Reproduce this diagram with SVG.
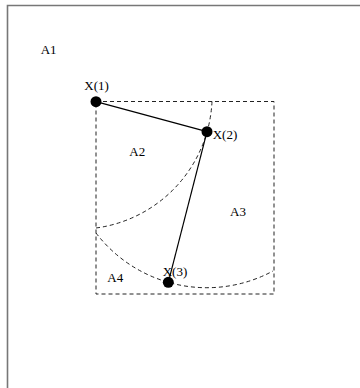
<svg xmlns="http://www.w3.org/2000/svg" width="360" height="388" viewBox="0 0 360 388">
<style>
  .lbl { font-family: "Liberation Serif", "Times New Roman", serif; font-size: 13px; fill: #000; }
  .dash { fill: none; stroke: #222; stroke-width: 1; stroke-dasharray: 4 3; }
  .edge { fill: none; stroke: #000; stroke-width: 1.2; }
  .pt { fill: #000; }
</style>
<rect x="0" y="0" width="360" height="388" fill="#fff"/>
<g id="frame">
  <path d="M7.5,388 V5.5 H360" fill="none" stroke="#777" stroke-width="1.6"/>
</g>
<g id="regions">
  <rect x="96" y="101.5" width="178" height="192.5" class="dash"/>
  <path d="M212,101.5 A134,134 0 0 1 96,228" class="dash"/>
  <path d="M96,233 A139.5,139.5 0 0 0 273,271" class="dash"/>
</g>
<g id="connectors">
  <line x1="96" y1="101.7" x2="207" y2="131.7" class="edge"/>
  <line x1="207" y1="131.7" x2="168.3" y2="282.3" class="edge"/>
</g>
<g id="X1"><circle cx="96" cy="101.7" r="5.5" class="pt"/><text x="84.3" y="90" class="lbl">X(1)</text></g>
<g id="X2"><circle cx="207" cy="131.7" r="5.5" class="pt"/><text x="212.7" y="139" class="lbl">X(2)</text></g>
<g id="X3"><circle cx="168.3" cy="282.3" r="5.5" class="pt"/><text x="162.7" y="276" class="lbl">X(3)</text></g>
<g id="A1"><text x="40.7" y="54" class="lbl">A1</text></g>
<g id="A2"><text x="129.3" y="156" class="lbl">A2</text></g>
<g id="A3"><text x="230" y="216" class="lbl">A3</text></g>
<g id="A4"><text x="107.3" y="281.7" class="lbl">A4</text></g>
</svg>
